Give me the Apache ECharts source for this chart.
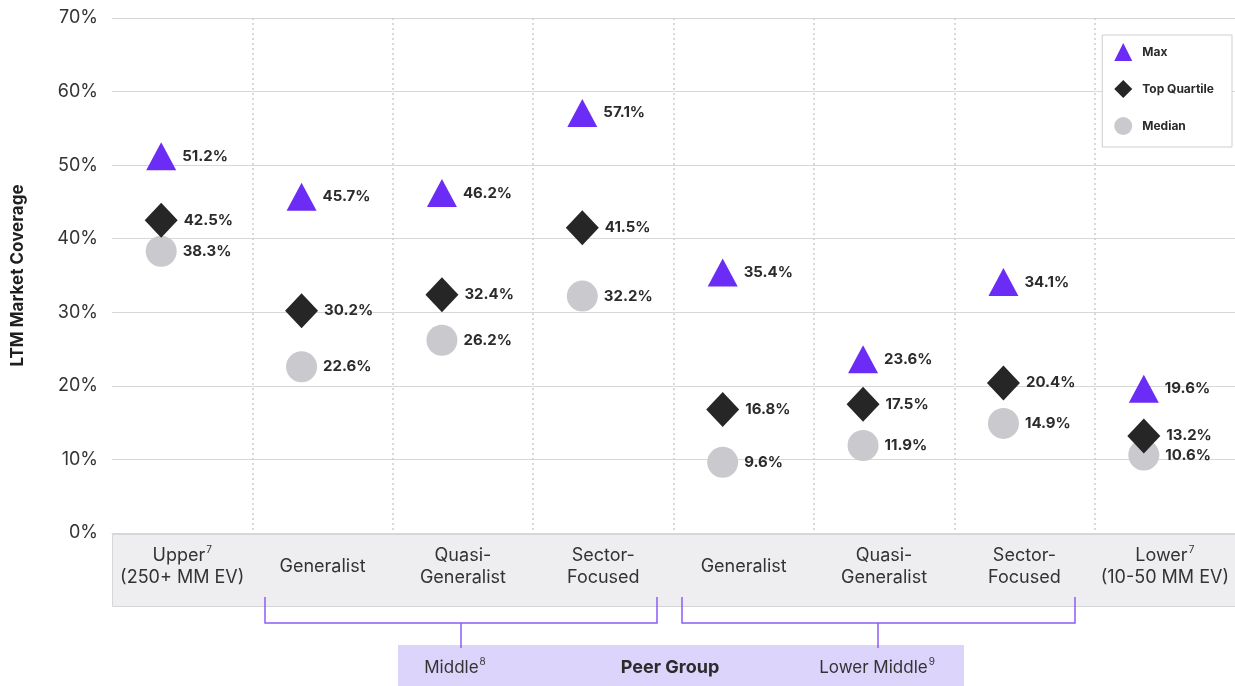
<!DOCTYPE html>
<html>
<head>
<meta charset="utf-8">
<script src="https://cdn.jsdelivr.net/npm/echarts@6/dist/echarts.min.js"></script>
<style>
  html, body { margin: 0; padding: 0; background: #fff; }
  #chart { width: 1235px; height: 686px; }
</style>
</head>
<body>
<div id="chart"></div>
<script>
const categories = [
  "{t|Upper}{sup|7}\n{t|(250+ MM EV)}",
  "{t|Generalist}",
  "{t|Quasi-}\n{t|Generalist}",
  "{t|Sector-}\n{t|Focused}",
  "{t|Generalist}",
  "{t|Quasi-}\n{t|Generalist}",
  "{t|Sector-}\n{t|Focused}",
  "{t|Lower}{sup|7}\n{t|(10-50 MM EV)}"
];
const maxValues = [51.2, 45.7, 46.2, 57.1, 35.4, 23.6, 34.1, 19.6];
const topQuartileValues = [42.5, 30.2, 32.4, 41.5, 16.8, 17.5, 20.4, 13.2];
const medianValues = [38.3, 22.6, 26.2, 32.2, 9.6, 11.9, 14.9, 10.6];
const yTicks = [0, 10, 20, 30, 40, 50, 60, 70];

const FONT = "Inter, 'Noto Sans', sans-serif";
const PURPLE = "#8b5cf6";

const chartDom = document.getElementById("chart");
const myChart = echarts.init(chartDom);

const dataLabel = {
  show: true,
  position: "right",
  distance: 6,
  fontFamily: FONT,
  fontSize: 15,
  fontWeight: "bold",
  color: "#2b2b2b",
  formatter: (p) => p.value.toFixed(1) + "%",
};

const supRich = (size) => ({
  t: { fontFamily: FONT, fontSize: size, fill: "#333", color: "#333", lineHeight: 22 },
  sup: {
    fontFamily: FONT, fontSize: 10, fill: "#333", color: "#333",
    verticalAlign: "top", lineHeight: 22, padding: [0, 0, 8, 1],
  },
});

const option = {
  animation: false,
  textStyle: { fontFamily: FONT },
  grid: { left: 112, right: 0, top: 18, bottom: 153 },
  legend: {
    orient: "vertical",
    right: 3,
    top: 35,
    padding: [8, 18, 12, 12],
    itemGap: 19,
    itemWidth: 18,
    itemHeight: 18,
    borderColor: "#cfcfcf",
    borderWidth: 1,
    backgroundColor: "#fff",
    textStyle: {
      fontFamily: FONT, fontSize: 12, fontWeight: "bold", color: "#2b2b2b",
      padding: [0, 0, 0, 5],
    },
    data: ["Max", "Top Quartile", "Median"],
  },
  xAxis: {
    type: "category",
    data: categories,
    axisLine: { show: true, lineStyle: { color: "#d6d6d6", width: 1 } },
    axisTick: { show: false },
    splitLine: {
      show: true,
      showMinLine: false,
      showMaxLine: false,
      lineStyle: { color: "#cdcdcd", type: [2, 3], width: 1.5 },
    },
    axisLabel: {
      interval: 0,
      margin: 34,
      verticalAlign: "middle",
      lineHeight: 22,
      rich: supRich(18),
    },
  },
  yAxis: {
    type: "value",
    min: yTicks[0],
    max: yTicks[yTicks.length - 1],
    interval: 10,
    name: "LTM Market Coverage",
    nameLocation: "middle",
    nameGap: 86,
    nameTextStyle: { fontFamily: FONT, fontSize: 17, fontWeight: "bold", color: "#1f1f1f" },
    axisLine: { show: false },
    axisTick: { show: false },
    axisLabel: {
      margin: 14,
      fontFamily: FONT,
      fontSize: 18,
      color: "#333",
      formatter: "{value}%",
    },
    splitLine: { lineStyle: { color: "#d8d8d8", width: 1 } },
  },
  graphic: [
    {
      type: "rect",
      left: 112, top: 534, z: -10,
      shape: { width: 1123, height: 72 },
      style: { fill: "#eeeef0", stroke: "#d6d6d6", lineWidth: 1 },
    },
    {
      type: "polyline",
      shape: { points: [[265, 597], [265, 623], [657, 623], [657, 597]] },
      style: { stroke: PURPLE, lineWidth: 1.5, fill: null },
    },
    {
      type: "polyline",
      shape: { points: [[682, 597], [682, 623], [1075, 623], [1075, 597]] },
      style: { stroke: PURPLE, lineWidth: 1.5, fill: null },
    },
    {
      type: "rect",
      left: 398, top: 645,
      shape: { width: 566, height: 41 },
      style: { fill: "#ddd4fc" },
    },
    {
      type: "line",
      shape: { x1: 461, y1: 623, x2: 461, y2: 648 },
      style: { stroke: PURPLE, lineWidth: 1.5 },
    },
    {
      type: "line",
      shape: { x1: 878, y1: 623, x2: 878, y2: 648 },
      style: { stroke: PURPLE, lineWidth: 1.5 },
    },
    {
      type: "text",
      x: 455, y: 668,
      style: {
        text: "{t|Middle}{sup|8}",
        align: "center", verticalAlign: "middle",
        rich: supRich(17),
      },
    },
    {
      type: "text",
      x: 670, y: 668,
      style: {
        text: "Peer Group",
        align: "center", verticalAlign: "middle",
        fontFamily: FONT, fontSize: 18, fontWeight: "bold", fill: "#2b2b2b",
      },
    },
    {
      type: "text",
      x: 877, y: 668,
      style: {
        text: "{t|Lower Middle}{sup|9}",
        align: "center", verticalAlign: "middle",
        rich: supRich(17),
      },
    },
  ],
  series: [
    {
      name: "Max",
      type: "scatter",
      data: maxValues,
      symbol: "triangle",
      symbolSize: [30, 28],
      symbolOffset: [-21, 0],
      itemStyle: { color: "#6b2cf5", opacity: 1 },
      label: dataLabel,
      z: 4,
    },
    {
      name: "Top Quartile",
      type: "scatter",
      data: topQuartileValues,
      symbol: "diamond",
      symbolSize: [33, 35],
      symbolOffset: [-21, 0],
      itemStyle: { color: "#262626", opacity: 1 },
      label: dataLabel,
      z: 3,
    },
    {
      name: "Median",
      type: "scatter",
      data: medianValues,
      symbol: "circle",
      symbolSize: 31,
      symbolOffset: [-21, 0],
      itemStyle: { color: "#c9c9ce", opacity: 1 },
      label: dataLabel,
      z: 2,
    },
  ],
};

myChart.setOption(option);

const handleResize = () => myChart.resize();
window.addEventListener("resize", handleResize);
</script>
</body>
</html>
